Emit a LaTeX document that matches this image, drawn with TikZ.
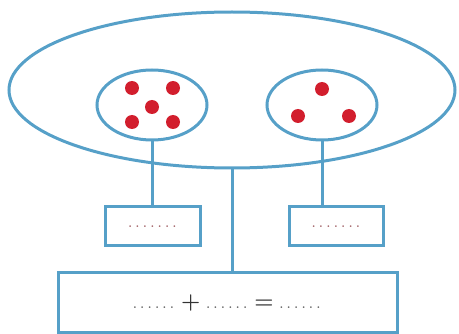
\documentclass[tikz,border=0pt]{standalone}
\usepackage{tikz}
\usepackage{xcolor}
\usetikzlibrary{shapes.geometric}
\definecolor{setblue}{RGB}{86,160,200}
\definecolor{dotred}{RGB}{210,30,45}
\definecolor{blankgray}{RGB}{95,95,95}
\definecolor{blankpink}{RGB}{160,95,100}
% a row of blank dots of a given width
\newcommand{\blankdots}[1]{\makebox[#1]{\leaders\hbox to 7.4pt{\hss.\hss}\hfill}}
\newcommand{\opsign}[1]{{\fontsize{22}{24}\selectfont\color{black!80}#1}}

\begin{document}
\begin{tikzpicture}[x=1pt, y=-1pt,
  setline/.style = {draw=setblue, line width=3pt},
  set/.style = {setline, ellipse, inner sep=0pt},
  elem/.style = {circle, fill=dotred, inner sep=0pt, minimum size=14pt},
  blank/.style = {setline, rectangle, inner sep=0pt, font=\large\bfseries, text=blankpink},
  link/.style = {draw=setblue, line width=3pt}
]
  \useasboundingbox (0,0) rectangle (459,334);

  % whole set
  \node[set, minimum width=446pt, minimum height=156pt] (whole) at (232,90) {};

  % two parts
  \node[set, minimum width=110pt, minimum height=70pt] (left) at (152,105) {};
  \node[set, minimum width=110pt, minimum height=70pt] (right) at (322,105) {};

  % elements
  \foreach \x/\y/\n in {132/88/a, 173/88/b, 152/107/c, 132/122/d, 173/122/e}
    \node[elem] (l\n) at (\x,\y) {};
  \foreach \x/\y/\n in {322/89/a, 298/116/b, 349/116/c}
    \node[elem] (r\n) at (\x,\y) {};

  % count boxes
  \node[blank, minimum width=95pt, minimum height=39pt] (lcount) at (152.5,226.5) {\blankdots{52pt}};
  \node[blank, minimum width=94pt, minimum height=39pt] (rcount) at (336,226.5) {\blankdots{52pt}};
  \node[blank, minimum width=339pt, minimum height=60pt, text=blankgray]
    (sum) at (227.5,303) {\blankdots{46pt}\hspace{4pt}\opsign{+}\hspace{4pt}\blankdots{46pt}\hspace{4pt}\opsign{=}\hspace{4pt}\blankdots{46pt}};

  % links
  \draw[link] (left.south) -- (left.south |- lcount.north);
  \draw[link] (right.south) -- (right.south |- rcount.north);
  \draw[link] (whole.south) -- (whole.south |- sum.north);
\end{tikzpicture}
\end{document}
